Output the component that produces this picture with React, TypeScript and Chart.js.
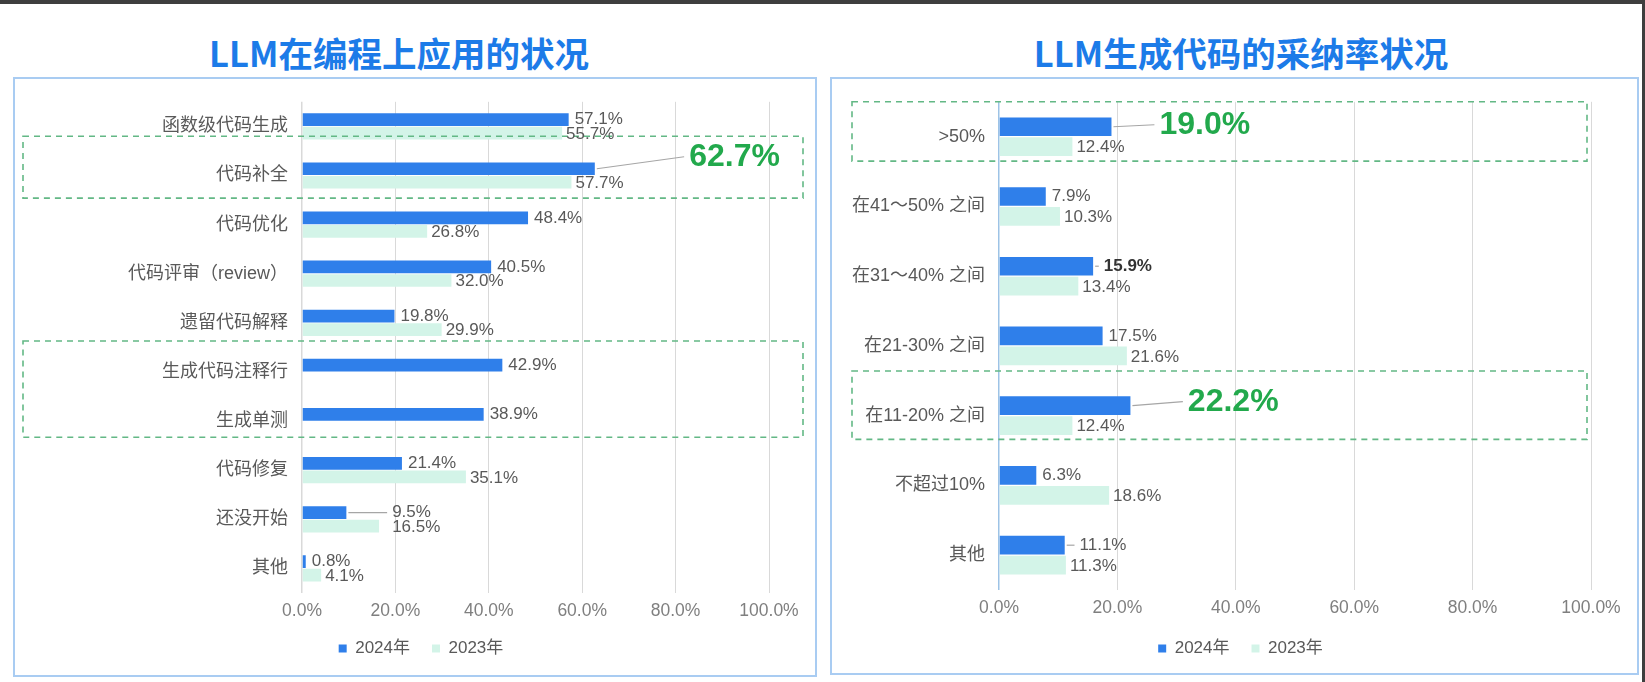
import React, { useEffect, useRef } from 'react';
import { Chart, registerables } from 'chart.js';

Chart.register(...registerables);

const FONT = "'Liberation Sans', 'Noto Sans CJK SC', sans-serif";

// ---------- data ----------
const seriesNames = ['2024年', '2023年'];
const xTickValues = [0, 20, 40, 60, 80, 100];

const usageTitle = 'LLM在编程上应用的状况';
const usageCategories = [
  '函数级代码生成',
  '代码补全',
  '代码优化',
  '代码评审（review）',
  '遗留代码解释',
  '生成代码注释行',
  '生成单测',
  '代码修复',
  '还没开始',
  '其他',
];
const usage2024 = [57.1, 62.7, 48.4, 40.5, 19.8, 42.9, 38.9, 21.4, 9.5, 0.8];
const usage2023 = [55.7, 57.7, 26.8, 32.0, 29.9, null, null, 35.1, 16.5, 4.1];

const adoptTitle = 'LLM生成代码的采纳率状况';
const adoptCategories = [
  '>50%',
  '在41～50% 之间',
  '在31～40% 之间',
  '在21-30% 之间',
  '在11-20% 之间',
  '不超过10%',
  '其他',
];
const adopt2024 = [19.0, 7.9, 15.9, 17.5, 22.2, 6.3, 11.1];
const adopt2023 = [12.4, 10.3, 13.4, 21.6, 12.4, 18.6, 11.3];

// ---------- styles ----------
const BLUE = '#2F7FEA';
const MINT = '#D3F4E8';
const GREEN = '#22A94C';
const LABEL = '#595959';
const TICK = '#7F7F7F';
const GRID = '#D9D9D9';
const DASH = '#63B885';
const PANEL_BORDER = '#A9CCF2';

type LabelSpec = { at?: number; dy?: number; big?: boolean; leader?: boolean; bold?: boolean; color?: string };
type BoxSpec = { from: number; to: number; padTop: number; padBottom: number; x0: number; x1: number };

type PanelCfg = {
  left: number;
  top: number;
  width: number;
  height: number;
  title: string;
  titleX: number;
  categories: string[];
  s2024: (number | null)[];
  s2023: (number | null)[];
  padding: { top: number; right: number; bottom: number; left: number };
  yWidth: number;
  xHeight: number;
  legendShift: number;
  zeroColor: string;
  catPct: number;
  labels: Record<string, LabelSpec>;
  boxes: BoxSpec[];
};

const valueLabelPlugin = {
  id: 'valueLabels',
  afterLayout(chart: any, _args: any, opts: any) {
    const lg = chart.legend;
    if (lg && opts.legendShift) {
      lg.left += opts.legendShift;
      lg.right += opts.legendShift;
    }
  },
  afterDatasetsDraw(chart: any, _args: any, opts: any) {
    const { ctx } = chart;
    const xs = chart.scales.x;
    const ys = chart.scales.y;
    const step = ys.getPixelForValue(1) - ys.getPixelForValue(0);

    // dashed highlight boxes
    ctx.save();
    ctx.setLineDash([6, 5]);
    ctx.strokeStyle = DASH;
    ctx.lineWidth = 1.6;
    (opts.boxes || []).forEach((b: BoxSpec) => {
      const t = ys.getPixelForValue(b.from) + b.padTop * step;
      const bt = ys.getPixelForValue(b.to) + b.padBottom * step;
      ctx.strokeRect(b.x0, t, b.x1 - b.x0, bt - t);
    });
    ctx.restore();

    chart.data.datasets.forEach((ds: any, di: number) => {
      const meta = chart.getDatasetMeta(di);
      meta.data.forEach((bar: any, i: number) => {
        const v = ds.data[i];
        if (v === null || v === undefined) return;
        const spec: LabelSpec = (opts.labels || {})[di + ':' + i] || {};
        const text = v.toFixed(1) + '%';
        const baseY = bar.y + (di === 1 ? 1 : 0);
        const x = spec.at !== undefined ? xs.getPixelForValue(spec.at) : bar.x + (di === 0 ? 6 : 4);
        const y = baseY + (spec.dy || 0);
        ctx.save();
        if (spec.leader || spec.big) {
          ctx.strokeStyle = '#A6A6A6';
          ctx.lineWidth = 1.2;
          ctx.beginPath();
          ctx.moveTo(bar.x + 2, bar.y);
          ctx.lineTo(x - 5, y);
          ctx.stroke();
        }
        ctx.textBaseline = 'middle';
        ctx.textAlign = 'left';
        if (spec.big) {
          ctx.font = `bold 32px ${FONT}`;
          ctx.fillStyle = GREEN;
        } else {
          ctx.font = `${spec.bold ? 'bold ' : ''}17px ${FONT}`;
          ctx.fillStyle = spec.color || LABEL;
        }
        ctx.fillText(text, x, y);
        ctx.restore();
      });
    });
  },
};

const usageCfg: PanelCfg = {
  left: 13,
  top: 77,
  width: 804,
  height: 600,
  title: usageTitle,
  titleX: 399,
  categories: usageCategories,
  s2024: usage2024,
  s2023: usage2023,
  padding: { top: 21, right: 48, bottom: 10, left: 0 },
  yWidth: 289,
  xHeight: 25,
  legendShift: 30,
  zeroColor: GRID,
  catPct: 0.55,
  labels: {
    '0:1': { at: 82.9, dy: -12, big: true },
    '0:8': { at: 19.3, leader: true },
    '1:8': { at: 19.3 },
  },
  boxes: [
    { from: 1, to: 1, padTop: -0.8, padBottom: 0.46, x0: 10, x1: 790 },
    { from: 5, to: 6, padTop: -0.63, padBottom: 0.33, x0: 10, x1: 790 },
  ],
};

const adoptCfg: PanelCfg = {
  left: 830,
  top: 77,
  width: 809,
  height: 598,
  title: adoptTitle,
  titleX: 1241,
  categories: adoptCategories,
  s2024: adopt2024,
  s2023: adopt2023,
  padding: { top: 20, right: 48, bottom: 8, left: 0 },
  yWidth: 169,
  xHeight: 28,
  legendShift: 30,
  zeroColor: '#9DC3E6',
  catPct: 0.57,
  labels: {
    '0:0': { at: 27.1, dy: -2, big: true },
    '0:2': { at: 17.7, leader: true, bold: true, color: '#333333' },
    '0:4': { at: 31.9, dy: -4, big: true },
    '0:6': { at: 13.6, leader: true },
  },
  boxes: [
    { from: 0, to: 0, padTop: -0.5, padBottom: 0.35, x0: 22, x1: 757 },
    { from: 4, to: 4, padTop: -0.64, padBottom: 0.34, x0: 22, x1: 757 },
  ],
};

function Panel({ cfg }: { cfg: PanelCfg }) {
  const ref = useRef<HTMLCanvasElement | null>(null);

  useEffect(() => {
    if (!ref.current) return;
    const chart = new Chart(ref.current, {
      type: 'bar',
      data: {
        labels: cfg.categories,
        datasets: [
          {
            label: seriesNames[0],
            data: cfg.s2024,
            backgroundColor: BLUE,
            borderWidth: 0,
            categoryPercentage: cfg.catPct,
            barPercentage: 0.94,
          },
          {
            label: seriesNames[1],
            data: cfg.s2023,
            backgroundColor: MINT,
            borderWidth: 0,
            categoryPercentage: cfg.catPct,
            barPercentage: 0.94,
          },
        ],
      },
      options: {
        indexAxis: 'y',
        responsive: false,
        animation: false,
        layout: { padding: cfg.padding },
        scales: {
          x: {
            min: 0,
            max: 100,
            afterBuildTicks: (s: any) => {
              s.ticks = xTickValues.map((v) => ({ value: v }));
            },
            afterFit: (s: any) => {
              s.height = cfg.xHeight;
            },
            ticks: {
              color: TICK,
              font: { size: 17.5, family: FONT },
              padding: 8,
              callback: (v: any) => Number(v).toFixed(1) + '%',
            },
            grid: {
              color: (c: any) => (c.tick && c.tick.value === 0 ? cfg.zeroColor : GRID),
              lineWidth: (c: any) => (c.tick && c.tick.value === 0 ? 1.5 : 1),
              drawTicks: false,
            },
            border: { display: false },
          },
          y: {
            afterFit: (s: any) => {
              s.width = cfg.yWidth;
            },
            ticks: {
              color: LABEL,
              font: { size: 18, family: FONT },
              padding: 14,
            },
            grid: { display: false, drawTicks: false },
            border: { display: false },
          },
        },
        plugins: {
          legend: {
            position: 'bottom',
            labels: {
              boxWidth: 8,
              boxHeight: 8,
              color: LABEL,
              font: { size: 17, family: FONT },
              padding: 22,
            },
          },
          tooltip: { enabled: false },
          valueLabels: { labels: cfg.labels, boxes: cfg.boxes, legendShift: cfg.legendShift },
        } as any,
      },
      plugins: [valueLabelPlugin],
    } as any);
    return () => chart.destroy();
  }, [cfg]);

  return (
    <>
      <div
        style={{
          position: 'absolute',
          left: cfg.titleX,
          top: 29,
          transform: 'translateX(-50%)',
          whiteSpace: 'nowrap',
          fontFamily: "'Noto Sans CJK SC', 'Liberation Sans', sans-serif",
          fontWeight: 700,
          fontSize: 34.5,
          lineHeight: '46px',
          color: '#1C7BE8',
        }}
      >
        {cfg.title}
      </div>
      <canvas
        ref={ref}
        width={cfg.width}
        height={cfg.height}
        style={{ position: 'absolute', left: cfg.left, top: cfg.top, width: cfg.width, height: cfg.height }}
      />
      <div
        style={{
          position: 'absolute',
          left: cfg.left,
          top: cfg.top,
          width: cfg.width,
          height: cfg.height,
          boxSizing: 'border-box',
          border: `2px solid ${PANEL_BORDER}`,
          pointerEvents: 'none',
        }}
      />
    </>
  );
}

export default function App() {
  return (
    <div
      style={{
        position: 'fixed',
        left: 0,
        top: 0,
        width: 1645,
        height: 682,
        background: '#FFFFFF',
        overflow: 'hidden',
      }}
    >
      <div style={{ position: 'absolute', left: 0, top: 0, width: 1645, height: 4, background: '#3E3E3E' }} />
      <div style={{ position: 'absolute', right: 0, top: 0, width: 3, height: 682, background: '#3E3E3E' }} />
      <Panel cfg={usageCfg} />
      <Panel cfg={adoptCfg} />
    </div>
  );
}
